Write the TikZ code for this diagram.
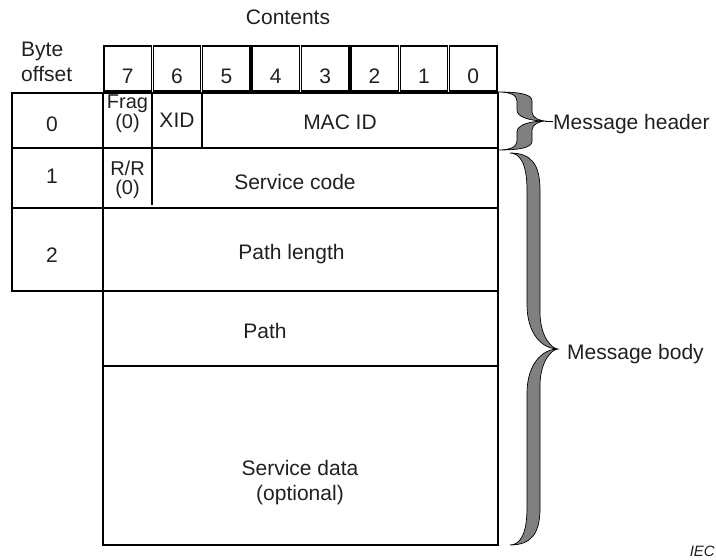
\documentclass[tikz,border=0pt]{standalone}
\usepackage{fontspec}
\setmainfont{Liberation Sans}
\usetikzlibrary{positioning}
\definecolor{ink}{HTML}{231F20}
\definecolor{bracegray}{HTML}{808080}

% fat curly brace: ends x, shaft left x, shaft right x, tip x, top y, bottom y, curl
\newcommand{\fatbrace}[7]{%
  \pgfmathsetmacro{\ym}{(#5+#6)/2}
  \filldraw[bracefill]
    (#1,#5) .. controls ({#3-0.3*(#3-#1)},#5) and (#3,{#5+0.3*#7}) .. (#3,{#5+#7})
    -- (#3,{\ym-#7}) .. controls (#3,{\ym-0.3*#7}) and ({#4-0.3*(#4-#3)},\ym) .. (#4,\ym)
    .. controls ({#4-0.3*(#4-#3)},\ym) and (#3,{\ym+0.3*#7}) .. (#3,{\ym+#7})
    -- (#3,{#6-#7}) .. controls (#3,{#6-0.3*#7}) and ({#3-0.3*(#3-#1)},#6) .. (#1,#6)
    .. controls ({#2-0.4*(#2-#1)},#6) and (#2,{#6-0.3*#7}) .. (#2,{#6-#7})
    -- (#2,{\ym+1.2*#7}) .. controls (#2,{\ym+0.4*#7}) and ({#4-0.5*(#4-#2)},\ym) .. (#4,\ym)
    .. controls ({#4-0.5*(#4-#2)},\ym) and (#2,{\ym-0.4*#7}) .. (#2,{\ym-1.2*#7})
    -- (#2,{#5+#7}) .. controls (#2,{#5+0.3*#7}) and ({#2-0.4*(#2-#1)},#5) .. (#1,#5) -- cycle;
}

\begin{document}
\begin{tikzpicture}[x=1pt, y=-1pt,
    font=\fontsize{21}{25}\selectfont, text=ink,
    rule/.style={line width=1.4pt},
    cell/.style 2 args={minimum width=#1pt, minimum height=#2pt, inner sep=0pt, outer sep=0pt},
    box/.style 2 args={cell={#1}{#2}, draw, rule},
    bitbox/.style={box={47.4}{45}, text height=29pt, text depth=0pt},
    small/.style={font=\fontsize{20}{18.5}\selectfont, align=center, inner sep=0pt},
    bracefill/.style={fill=bracegray, draw=black, line width=0.7pt}]
    \useasboundingbox (0,0) rectangle (716,560);

    % Column headings
    \node (contents) at (288,17.5) {Contents};
    \node[align=left, anchor=west, inner sep=0pt] (offset) at (21,61.5) {Byte\\offset};

    % Bit numbers
    \foreach \b [count=\i from 0] in {7,6,...,0}
        \node[bitbox] (bit\b) at ({103+49.375*(\i+0.5)},68.5) {\b};

    % Byte offsets
    \foreach \n/\yc/\h/\ty in {0/120.5/55/124, 1/178/60/176, 2/249.5/83/255} {
        \node[box={91}{\h}] (off\n) at (57.5,\yc) {};
        \node (offnum\n) at (52,\ty) {\n};
    }

    % Byte 0
    \node[box={395}{55}] (row0) at (300.5,120.5) {};
    \node[box={49}{55}] (frag) at (127.5,120.5) {};
    \node[small, below=2pt of frag.north] (fragtext) {Frag\\(0)};
    \node[box={50}{55}] (xid) at (177,120.5) {XID};
    \node (mac) at (340,122) {MAC ID};

    % Byte 1
    \node[box={395}{60}] (row1) at (300.5,178) {};
    \node[cell={49}{60}, small] (rr) at (127.5,180) {R/R\\(0)};
    \draw[rule] (row1.north -| rr.east) -- ([yshift=3pt]row1.south -| rr.east);
    \node (service) at (295,182) {Service code};

    % Byte 2 and the rest of the body
    \node[box={395}{83}] (row2) at (300.5,249.5) {};
    \node (pathlen) at (291.5,254) {Path length};
    \node[box={395}{75}] (path) at (300.5,328.5) {};
    \node (pathtext) at (265,331) {Path};
    \node[box={395}{179}] (data) at (300.5,455.5) {};
    \node[align=center] (datatext) at (300,483) {Service data\\(optional)};

    % Braces
    \fatbrace{498}{517}{532}{545}{92}{150}{9}
    \fatbrace{510}{527}{540}{558}{153}{545}{37}
    \coordinate (hdtip) at (545,121);
    \node[anchor=west, inner sep=0pt] (hdr) at (553,124.5) {Message header};
    \draw[line width=0.8pt] (hdtip) -- (hdtip -| hdr.west);
    \node[anchor=west, inner sep=0pt] (body) at (567,354.5) {Message body};

    \node[font=\fontsize{15}{18}\selectfont\itshape, anchor=base east, inner sep=0pt] (iec) at (715,556) {IEC};
\end{tikzpicture}
\end{document}
